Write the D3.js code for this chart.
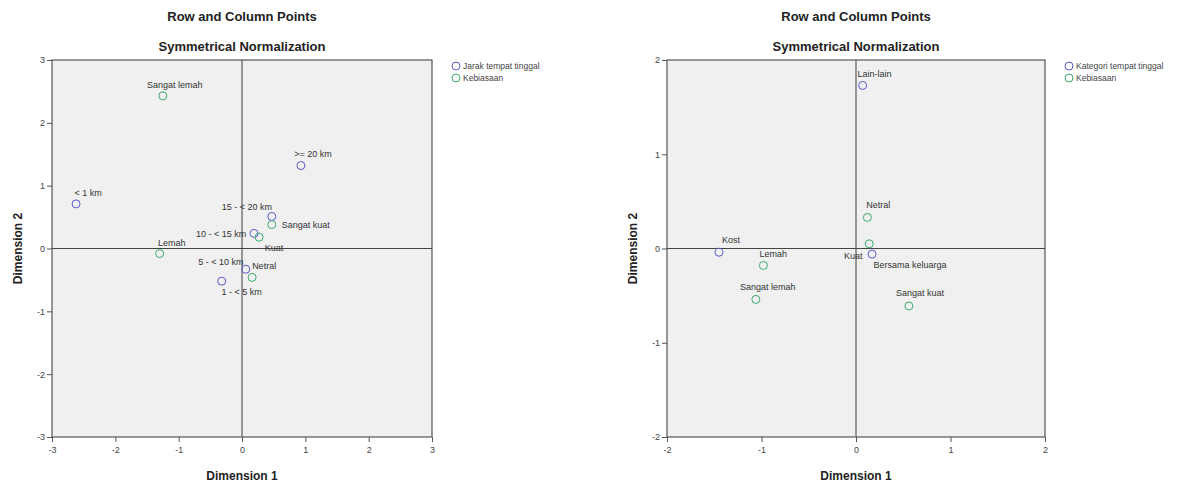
<!DOCTYPE html>
<html><head><meta charset="utf-8">
<script src="https://cdn.jsdelivr.net/npm/d3@7/dist/d3.min.js"></script>
<style>body{margin:0;background:#fff;font-family:"Liberation Sans",Arial,sans-serif}</style>
</head><body><svg id="c" width="1197" height="485"></svg>
<script>
// ---- data ----
const leftRowLabels = ["< 1 km","1 - < 5 km","5 - < 10 km","10 - < 15 km","15 - < 20 km",">= 20 km"];
const leftRowX = [-2.62,-0.32,0.06,0.19,0.47,0.93];
const leftRowY = [0.71,-0.52,-0.33,0.24,0.51,1.32];
const leftColLabels = ["Sangat lemah","Lemah","Netral","Kuat","Sangat kuat"];
const leftColX = [-1.25,-1.30,0.16,0.27,0.47];
const leftColY = [2.43,-0.08,-0.46,0.18,0.38];

const rightRowLabels = ["Kost","Bersama keluarga","Lain-lain"];
const rightRowX = [-1.45,0.17,0.07];
const rightRowY = [-0.04,-0.06,1.73];
const rightColLabels = ["Sangat lemah","Lemah","Netral","Kuat","Sangat kuat"];
const rightColX = [-1.06,-0.98,0.12,0.14,0.56];
const rightColY = [-0.54,-0.18,0.33,0.05,-0.61];

const leftTicks = [-3,-2,-1,0,1,2,3];
const rightTicks = [-2,-1,0,1,2];
const legendLeft = ["Jarak tempat tinggal","Kebiasaan"];
const legendRight = ["Kategori tempat tinggal","Kebiasaan"];

// label placement (pixel offsets of label centre from point), layout only
const leftRowOff = [[12,-8],[20,14],[-25,-4],[-33,4],[-25,-6],[12,-9]];
const leftColOff = [[12,-8],[12,-8],[12,-8],[15,14],[34,3]];
const rightRowOff = [[12,-9],[38,14],[12,-8]];
const rightColOff = [[12,-9],[10,-8],[11,-9],[-16,15],[11,-10]];

const rowColor = "#5a5ac8", colColor = "#3caa6e";
const svg = d3.select("#c");

function panel(cfg){
  const g = svg.append("g");
  const x = d3.scaleLinear().domain(cfg.domain).range([cfg.x0,cfg.x1]);
  const y = d3.scaleLinear().domain(cfg.domain).range([cfg.y1,cfg.y0]);
  const cx = (cfg.x0+cfg.x1)/2;
  g.append("text").attr("x",cx).attr("y",21).attr("text-anchor","middle")
    .attr("font-size",13).attr("font-weight","bold").attr("fill","#222").text("Row and Column Points");
  g.append("text").attr("x",cx).attr("y",51).attr("text-anchor","middle")
    .attr("font-size",13).attr("font-weight","bold").attr("fill","#222").text("Symmetrical Normalization");
  g.append("rect").attr("x",cfg.x0).attr("y",cfg.y0).attr("width",cfg.x1-cfg.x0).attr("height",cfg.y1-cfg.y0)
    .attr("fill","#f0f0f0").attr("stroke","#555").attr("stroke-width",1.2);
  // axes
  const fmt = d => String(d);
  const ax = g.append("g").attr("transform",`translate(0,${cfg.y1})`)
    .call(d3.axisBottom(x).tickValues(cfg.ticks).tickSize(5).tickFormat(fmt));
  const ay = g.append("g").attr("transform",`translate(${cfg.x0},0)`)
    .call(d3.axisLeft(y).tickValues(cfg.ticks).tickSize(5).tickFormat(fmt));
  [ax,ay].forEach(a=>{a.select(".domain").remove();
    a.selectAll("line").attr("stroke","#555");
    a.selectAll("text").attr("font-size",9).attr("fill","#444").attr("font-family","Liberation Sans, Arial");});
  ax.selectAll("text").attr("dy","0.9em");
  ay.selectAll("text").attr("dx","1px");
  // zero lines
  g.append("line").attr("x1",x(0)).attr("x2",x(0)).attr("y1",cfg.y0).attr("y2",cfg.y1).attr("stroke","#666").attr("stroke-width",1.3);
  g.append("line").attr("x1",cfg.x0).attr("x2",cfg.x1).attr("y1",y(0)).attr("y2",y(0)).attr("stroke","#444").attr("stroke-width",1.2);
  // axis titles
  g.append("text").attr("x",cx).attr("y",480).attr("text-anchor","middle")
    .attr("font-size",12).attr("font-weight","bold").attr("fill","#222").text("Dimension 1");
  g.append("text").attr("transform",`translate(${cfg.x0-30},${(cfg.y0+cfg.y1)/2}) rotate(-90)`).attr("text-anchor","middle")
    .attr("font-size",12).attr("font-weight","bold").attr("fill","#222").text("Dimension 2");
  // points
  function series(labels,xs,ys,offs,color){
    const d = labels.map((l,i)=>({l,x:xs[i],y:ys[i],o:offs[i]}));
    g.selectAll(null).data(d).enter().append("circle")
      .attr("cx",e=>x(e.x)).attr("cy",e=>y(e.y)).attr("r",4)
      .attr("fill","none").attr("stroke",color).attr("stroke-width",1);
    g.selectAll(null).data(d).enter().append("text")
      .attr("x",e=>x(e.x)+e.o[0]).attr("y",e=>y(e.y)+e.o[1]).attr("text-anchor","middle")
      .attr("font-size",9).attr("fill","#333").text(e=>e.l);
  }
  series(cfg.rows,cfg.rx,cfg.ry,cfg.roff,rowColor);
  series(cfg.cols,cfg.colx,cfg.coly,cfg.coff,colColor);
  // legend
  cfg.legend.forEach((t,i)=>{
    g.append("circle").attr("cx",cfg.lx).attr("cy",66+i*12).attr("r",4).attr("fill","none")
      .attr("stroke",i===0?rowColor:colColor).attr("stroke-width",1);
    g.append("text").attr("x",cfg.lx+7).attr("y",69+i*12).attr("font-size",8.5).attr("fill","#444").text(t);
  });
}
panel({x0:52,x1:432,y0:60,y1:437,domain:[-3,3],ticks:leftTicks,
  rows:leftRowLabels,rx:leftRowX,ry:leftRowY,roff:leftRowOff,
  cols:leftColLabels,colx:leftColX,coly:leftColY,coff:leftColOff,legend:legendLeft,lx:456});
panel({x0:667,x1:1045,y0:60,y1:437,domain:[-2,2],ticks:rightTicks,
  rows:rightRowLabels,rx:rightRowX,ry:rightRowY,roff:rightRowOff,
  cols:rightColLabels,colx:rightColX,coly:rightColY,coff:rightColOff,legend:legendRight,lx:1069});
</script></body></html>
